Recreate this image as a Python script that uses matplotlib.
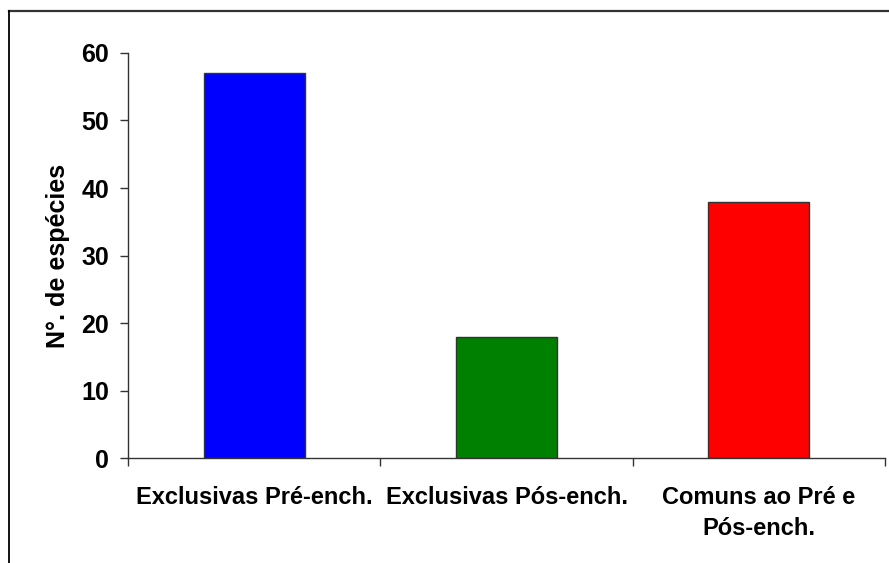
import matplotlib
matplotlib.use('Agg')
import matplotlib.pyplot as plt
from matplotlib.lines import Line2D

plt.rcParams['font.family'] = ['Liberation Sans', 'DejaVu Sans']
plt.rcParams['font.weight'] = 'bold'

# species counts per group
categorias = ['Exclusivas Pré-ench.', 'Exclusivas Pós-ench.', 'Comuns ao Pré e\nPós-ench.']
especies = [57, 18, 38]
cores = ['#0000ff', '#008000', '#ff0000']
yticks = [0, 10, 20, 30, 40, 50, 60]

fig = plt.figure(figsize=(8.89, 5.63), dpi=100)
ax = fig.add_axes([0.1445, 0.186, 0.8505, 0.720])

x = range(len(categorias))
ax.bar(x, especies, width=0.4, color=cores, edgecolor='#333333', linewidth=1.0)

ax.set_xlim(-0.5, len(categorias) - 0.5)
ax.set_ylim(0, 60)
ax.set_yticks(yticks)
ax.set_yticklabels([str(v) for v in yticks], fontsize=18, fontweight='bold')

# category ticks sit on the boundaries, labels in the middle
ax.set_xticks([i - 0.5 for i in range(len(categorias) + 1)])
ax.set_xticklabels([])
ax.set_xticks(list(x), minor=True)
ax.set_xticklabels(categorias, minor=True, fontsize=17, fontweight='bold', linespacing=1.45)
ax.tick_params(axis='x', which='minor', length=0, pad=20)
ax.tick_params(axis='x', which='major', direction='out', length=6, width=1, color='#333333')
ax.tick_params(axis='y', direction='out', length=6, width=1, color='#333333', pad=8)

ax.set_ylabel('N°. de espécies', fontsize=18, fontweight='bold', labelpad=8)

for side in ['top', 'right']:
    ax.spines[side].set_visible(False)
for side in ['left', 'bottom']:
    ax.spines[side].set_color('#333333')
    ax.spines[side].set_linewidth(1.0)

# frame lines of the chart area
fig.add_artist(Line2D([9 / 889, 1.0], [1 - 11 / 563, 1 - 11 / 563],
                      transform=fig.transFigure, color='#333333', linewidth=1.6))
fig.add_artist(Line2D([9 / 889, 9 / 889], [0.0, 1 - 11 / 563],
                      transform=fig.transFigure, color='black', linewidth=1.3))

plt.savefig('out.png', dpi=100)
plt.close()
